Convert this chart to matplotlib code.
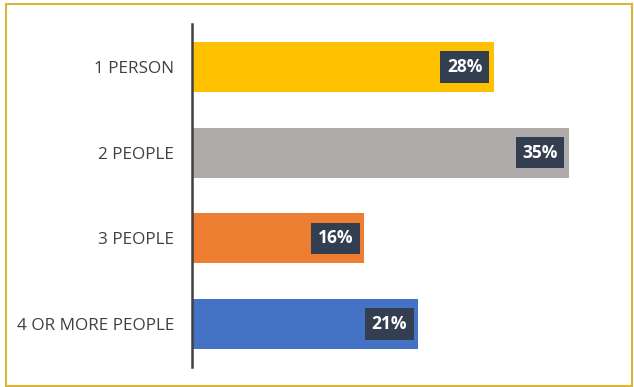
import matplotlib
matplotlib.use("Agg")
import matplotlib.pyplot as plt
from matplotlib.patches import Rectangle

categories = ["1 PERSON", "2 PEOPLE", "3 PEOPLE", "4 OR MORE PEOPLE"]
values = [28, 35, 16, 21]
labels = ["28%", "35%", "16%", "21%"]
colors = ["#FFC000", "#AFABAB", "#ED7D31", "#4472C4"]

W, H = 634, 387
fig = plt.figure(figsize=(W / 100, H / 100), dpi=100)
fig.patch.set_facecolor("white")

# border
fig.patches.append(Rectangle((6 / W, 1 - 386 / H), 626 / W, 382 / H,
                             transform=fig.transFigure, fill=False,
                             edgecolor="#D9B53A", linewidth=1.5))

left, right = 192, 622
top, bottom = 24.2, 366.8
ax = fig.add_axes([left / W, 1 - bottom / H, (right - left) / W, (bottom - top) / H])
ypos = list(range(len(categories)))
ax.barh(ypos, values, height=0.585, color=colors)
ax.set_xlim(0, (right - left) / 10.77)
ax.set_ylim(len(categories) - 0.5, -0.5)
ax.set_yticks(ypos)
ax.set_yticklabels(categories, fontsize=12.3, color="#404040", family="Open Sans")
ax.tick_params(axis="y", length=0, pad=13)
ax.set_xticks([])
for s in ["top", "right", "bottom"]:
    ax.spines[s].set_visible(False)
ax.spines["left"].set_color("#404040")
ax.spines["left"].set_linewidth(1.8)
ax.set_facecolor("none")

for y, v, lab in zip(ypos, values, labels):
    ax.annotate(lab, (v, y), xytext=(-8, 0), textcoords="offset points",
                ha="right", va="center", fontsize=12.5, fontweight="bold",
                color="white", family="Open Sans",
                bbox=dict(boxstyle="square,pad=0.38", facecolor="#333F50",
                          edgecolor="none"))

fig.savefig("out.png", dpi=100)
